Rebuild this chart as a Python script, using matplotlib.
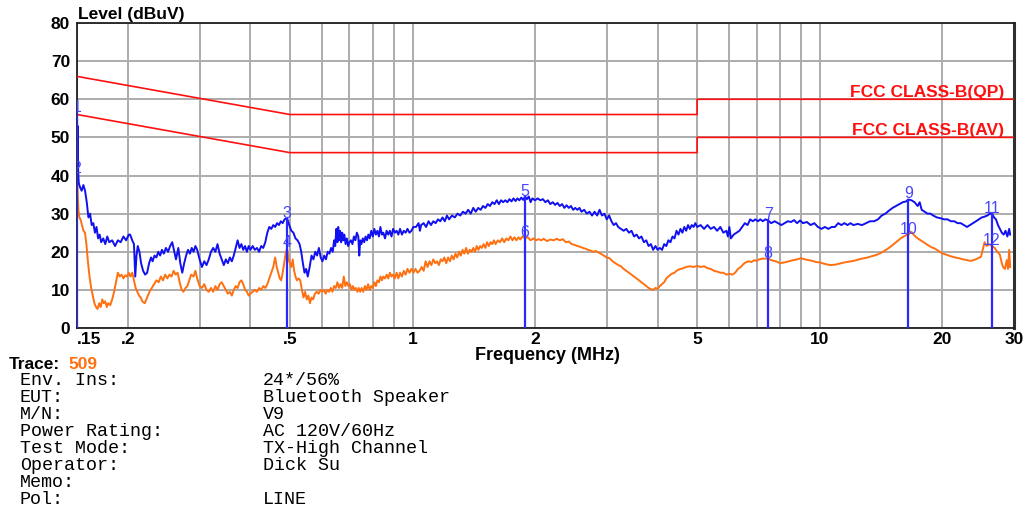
import matplotlib
matplotlib.use("Agg")
import matplotlib.pyplot as plt

plt.rcParams['font.family'] = ['Liberation Sans', 'DejaVu Sans']

# limit lines (MHz, dBuV)
limit_f = [0.15, 0.5, 5, 5, 30]
qp_limit = [66, 56, 56, 60, 60]
av_limit = [56, 46, 46, 50, 50]

# peak trace (blue)
peak_f = [
    0.1500, 0.1503, 0.1506, 0.1510, 0.1515, 0.1525, 0.1540, 0.1555, 0.1570, 0.1585,
    0.1600, 0.1615, 0.1630, 0.1645, 0.1660, 0.1675, 0.1690, 0.1705, 0.1720, 0.1740,
    0.1760, 0.1780, 0.1800, 0.1830, 0.1860, 0.1890, 0.1920, 0.1950, 0.1980, 0.2010,
    0.2025, 0.2050, 0.2070, 0.2085, 0.2100, 0.2115, 0.2135, 0.2155, 0.2180, 0.2205,
    0.2230, 0.2255, 0.2280, 0.2300, 0.2325, 0.2350, 0.2375, 0.2400, 0.2425, 0.2450,
    0.2480, 0.2510, 0.2540, 0.2570, 0.2600, 0.2625, 0.2660, 0.2690, 0.2720, 0.2750,
    0.2780, 0.2810, 0.2840, 0.2870, 0.2900, 0.2930, 0.2960, 0.3000, 0.3040, 0.3080,
    0.3120, 0.3160, 0.3200, 0.3240, 0.3280, 0.3320, 0.3360, 0.3400, 0.3440, 0.3480,
    0.3520, 0.3560, 0.3600, 0.3640, 0.3680, 0.3720, 0.3760, 0.3800, 0.3840, 0.3880,
    0.3920, 0.3960, 0.4000, 0.4050, 0.4100, 0.4150, 0.4200, 0.4250, 0.4300, 0.4350,
    0.4400, 0.4450, 0.4500, 0.4550, 0.4600, 0.4650, 0.4700, 0.4750, 0.4800, 0.4850,
    0.4920, 0.4980, 0.5040, 0.5100, 0.5160, 0.5220, 0.5280, 0.5330, 0.5380, 0.5430,
    0.5480, 0.5530, 0.5590, 0.5650, 0.5710, 0.5770, 0.5830, 0.5890, 0.5950, 0.6010,
    0.6070, 0.6130, 0.6190, 0.6250, 0.6310, 0.6370, 0.6420, 0.6460, 0.6500, 0.6540,
    0.6570, 0.6600, 0.6640, 0.6680, 0.6720, 0.6760, 0.6800, 0.6850, 0.6900, 0.6950,
    0.7000, 0.7060, 0.7120, 0.7180, 0.7240, 0.7300, 0.7360, 0.7400, 0.7440, 0.7490,
    0.7550, 0.7610, 0.7670, 0.7730, 0.7790, 0.7850, 0.7920, 0.7990, 0.8060, 0.8130,
    0.8200, 0.8270, 0.8340, 0.8410, 0.8480, 0.8560, 0.8640, 0.8720, 0.8800, 0.8880,
    0.8960, 0.9050, 0.9140, 0.9230, 0.9320, 0.9420, 0.9520, 0.9620, 0.9720, 0.9830,
    0.9940, 1.0050, 1.0200, 1.0350, 1.0430, 1.0500, 1.0650, 1.0800, 1.0950, 1.1100,
    1.1250, 1.1400, 1.1550, 1.1700, 1.1850, 1.2000, 1.2150, 1.2300, 1.2500, 1.2700,
    1.2900, 1.3100, 1.3300, 1.3500, 1.3700, 1.3900, 1.4100, 1.4300, 1.4500, 1.4700,
    1.4900, 1.5100, 1.5300, 1.5500, 1.5700, 1.5900, 1.6100, 1.6300, 1.6500, 1.6700,
    1.6900, 1.7100, 1.7300, 1.7500, 1.7700, 1.7900, 1.8100, 1.8300, 1.8500, 1.8700,
    1.8900, 1.9100, 1.9300, 1.9500, 1.9700, 2.0000, 2.0300, 2.0600, 2.0900, 2.1200,
    2.1500, 2.1800, 2.2100, 2.2400, 2.2700, 2.3000, 2.3300, 2.3600, 2.3900, 2.4200,
    2.4500, 2.4800, 2.5100, 2.5400, 2.5700, 2.6000, 2.6400, 2.6800, 2.7200, 2.7600,
    2.8000, 2.8400, 2.8800, 2.9200, 2.9600, 3.0000, 3.0400, 3.0800, 3.1200, 3.1600,
    3.2000, 3.2500, 3.3000, 3.3500, 3.4000, 3.4500, 3.5000, 3.5500, 3.6000, 3.6500,
    3.7000, 3.7500, 3.8000, 3.8500, 3.9000, 3.9500, 4.0000, 4.0500, 4.1000, 4.1500,
    4.2000, 4.2500, 4.3000, 4.3500, 4.4000, 4.4500, 4.5000, 4.5500, 4.6000, 4.6500,
    4.7000, 4.7500, 4.8000, 4.8500, 4.9000, 4.9500, 5.0000, 5.1000, 5.2000, 5.3000,
    5.4000, 5.5000, 5.6000, 5.7000, 5.8000, 5.9000, 5.9500, 6.0000, 6.0500, 6.1500,
    6.2500, 6.3500, 6.4500, 6.5500, 6.6500, 6.7500, 6.8500, 6.9500, 7.0500, 7.1500,
    7.2500, 7.3500, 7.4700, 7.6000, 7.7500, 7.9000, 8.0500, 8.2000, 8.3500, 8.5000,
    8.6500, 8.8000, 8.9500, 9.1000, 9.3000, 9.5000, 9.7000, 9.9000, 10.100, 10.300,
    10.500, 10.700, 10.900, 11.100, 11.300, 11.500, 11.700, 11.900, 12.100, 12.400,
    12.700, 13.000, 13.300, 13.600, 13.900, 14.200, 14.500, 14.800, 15.100, 15.400,
    15.700, 16.000, 16.300, 16.500, 16.800, 17.100, 17.400, 17.600, 17.800, 18.100,
    18.400, 18.700, 19.000, 19.400, 19.800, 20.200, 20.600, 21.000, 21.400, 21.800,
    22.200, 22.600, 23.000, 23.400, 23.800, 24.200, 24.600, 25.000, 25.400, 25.800,
    26.200, 26.500, 26.800, 27.100, 27.400, 27.700, 28.000, 28.300, 28.600, 28.900,
    29.200, 29.350,
]
peak_db = [
    56.5, 45, 53, 41, 38, 37, 36, 37.5, 36, 33,
    29, 30, 27, 27.5, 25, 26.5, 23.5, 24.5, 22.5, 23.5,
    22, 24, 22.5, 23, 21.5, 23, 22.5, 24, 23, 24.5,
    24.5, 23, 22, 13.5, 19, 21.5, 20, 17, 15, 14,
    14.5, 17, 18.5, 17.5, 19, 18.5, 20, 19, 20.5, 19.5,
    21, 20, 21.5, 22.5, 20, 18, 21, 17, 14.5, 17,
    19, 20.5, 19.5, 21, 20, 21.5, 20.5, 18, 16, 17.5,
    16.5, 18, 20, 21, 20, 22, 19.5, 18, 16.5, 18,
    17, 18.5, 17.5, 19, 21, 23, 21, 22, 20.5, 21.5,
    20, 21.5, 20.5, 21.5, 20.5, 21, 20, 21.5, 21, 22.5,
    25, 26.5, 26, 27, 26.5, 27.5, 27, 28, 27.5, 28.5,
    28.8, 27, 25.5, 25, 23.5, 23, 22, 20, 17, 14.5,
    15.5, 13.5, 16, 19, 18, 20, 19, 21, 18.5, 17.5,
    19, 18, 20, 19.5, 21, 20, 23, 21.5, 26, 22.5,
    26.5, 23, 25.5, 22.5, 25, 23, 24.5, 22, 23.5, 21.5,
    22.5, 23, 22, 24, 23, 25, 24, 19, 23, 22,
    23.5, 22.5, 24, 23, 24.5, 23.5, 25.5, 24, 26, 24.5,
    25.5, 24, 26.5, 24.5, 25, 23.5, 25.5, 24.5, 25.5, 24,
    26, 25, 25.5, 24.5, 26, 24.5, 25.5, 25, 26, 25,
    25.5, 26.5, 26.5, 27.5, 25.5, 27, 27.5, 26.5, 28, 27,
    28, 27.5, 28.5, 28, 29, 28, 29.5, 28.5, 29.5, 29,
    30, 29.5, 30.5, 30, 31, 30, 31.5, 30.5, 31.5, 31,
    32, 31.5, 32.5, 32, 33, 32.5, 33.5, 32.5, 33.5, 33,
    33.5, 33, 33.8, 33.2, 34, 33.3, 34, 33.5, 34.2, 33.6,
    34.5, 33.8, 34.5, 33, 34, 33.5, 34, 33.5, 33.8, 33,
    33.5, 32.5, 33, 32.3, 32.8, 32, 32.5, 31.5, 32.2, 31.5,
    32, 31, 31.5, 31, 31.5, 30.5, 31, 30, 30.5, 29.5,
    30.5, 29.5, 31, 29.5, 30, 28.5, 29.5, 28, 27, 27.5,
    26.5, 26, 25.5, 26, 25, 25.5, 24, 24.5, 23.5, 24,
    22.5, 23, 21.5, 22, 20.5, 21.5, 20.5, 21, 20.5, 22,
    21.5, 23, 22.5, 24, 23.5, 25.5, 24.5, 26, 25, 26.5,
    25.5, 27, 26, 27, 26.5, 27.5, 26.5, 27, 26, 27,
    26, 26.5, 25.5, 26.5, 25, 25.5, 24, 26.5, 23.5, 24.5,
    25, 25.5, 26.5, 27.5, 27, 28.5, 28, 28.5, 28, 28.5,
    28, 28.5, 28.2, 27.5, 28, 27.5, 27, 27.5, 28, 27.8,
    28.3, 27.5, 28.2, 27.5, 27.8, 27, 27.5, 26.5, 26, 26.5,
    26, 26.5, 26.5, 27.5, 27, 27.5, 27, 27.5, 27, 27.3,
    27, 27.5, 28, 28, 28.5, 29.5, 30, 30.8, 31.5, 32,
    32.5, 33, 33.2, 33.7, 33.5, 33, 32, 33, 31, 30.5,
    30, 30, 29.5, 29, 28.8, 28.5, 28.5, 28, 28, 27.5,
    27.5, 27, 26.5, 27, 27.5, 28, 28.5, 29, 29.2, 29.5,
    30, 30, 29, 28.5, 27, 26, 25, 24.5, 25.5, 24,
    26, 24.5,
]

# average trace (orange)
avg_f = [
    0.1500, 0.1503, 0.1506, 0.1512, 0.1520, 0.1530, 0.1543, 0.1556, 0.1569, 0.1582,
    0.1595, 0.1610, 0.1625, 0.1640, 0.1655, 0.1670, 0.1685, 0.1700, 0.1715, 0.1730,
    0.1745, 0.1760, 0.1775, 0.1790, 0.1810, 0.1830, 0.1850, 0.1870, 0.1890, 0.1910,
    0.1930, 0.1950, 0.1970, 0.1990, 0.2010, 0.2030, 0.2050, 0.2070, 0.2090, 0.2110,
    0.2130, 0.2150, 0.2170, 0.2200, 0.2230, 0.2260, 0.2290, 0.2320, 0.2350, 0.2380,
    0.2410, 0.2440, 0.2470, 0.2500, 0.2530, 0.2560, 0.2590, 0.2620, 0.2650, 0.2680,
    0.2710, 0.2740, 0.2770, 0.2800, 0.2830, 0.2860, 0.2900, 0.2930, 0.2960, 0.3000,
    0.3040, 0.3080, 0.3120, 0.3160, 0.3200, 0.3240, 0.3280, 0.3320, 0.3360, 0.3400,
    0.3440, 0.3480, 0.3520, 0.3560, 0.3600, 0.3640, 0.3680, 0.3720, 0.3760, 0.3800,
    0.3840, 0.3880, 0.3920, 0.3960, 0.4000, 0.4050, 0.4100, 0.4150, 0.4200, 0.4250,
    0.4300, 0.4350, 0.4400, 0.4450, 0.4500, 0.4550, 0.4600, 0.4640, 0.4680, 0.4720,
    0.4760, 0.4800, 0.4840, 0.4880, 0.4920, 0.4960, 0.5000, 0.5040, 0.5080, 0.5120,
    0.5160, 0.5200, 0.5250, 0.5300, 0.5350, 0.5400, 0.5450, 0.5500, 0.5550, 0.5600,
    0.5650, 0.5700, 0.5760, 0.5820, 0.5880, 0.5940, 0.6000, 0.6060, 0.6120, 0.6180,
    0.6240, 0.6300, 0.6360, 0.6420, 0.6480, 0.6540, 0.6600, 0.6660, 0.6720, 0.6780,
    0.6840, 0.6900, 0.6960, 0.7020, 0.7080, 0.7140, 0.7200, 0.7260, 0.7320, 0.7380,
    0.7440, 0.7500, 0.7570, 0.7640, 0.7710, 0.7780, 0.7850, 0.7920, 0.7990, 0.8060,
    0.8130, 0.8200, 0.8270, 0.8340, 0.8410, 0.8480, 0.8560, 0.8640, 0.8720, 0.8800,
    0.8880, 0.8960, 0.9050, 0.9140, 0.9230, 0.9320, 0.9420, 0.9520, 0.9620, 0.9720,
    0.9830, 0.9940, 1.0050, 1.0170, 1.0290, 1.0410, 1.0530, 1.0650, 1.0770, 1.0890,
    1.1010, 1.1130, 1.1250, 1.1370, 1.1490, 1.1610, 1.1730, 1.1850, 1.1970, 1.2100,
    1.2230, 1.2360, 1.2490, 1.2620, 1.2750, 1.2880, 1.3010, 1.3140, 1.3270, 1.3400,
    1.3540, 1.3680, 1.3820, 1.3960, 1.4100, 1.4240, 1.4380, 1.4520, 1.4660, 1.4800,
    1.4950, 1.5100, 1.5250, 1.5400, 1.5550, 1.5700, 1.5850, 1.6000, 1.6200, 1.6400,
    1.6600, 1.6800, 1.7000, 1.7200, 1.7400, 1.7600, 1.7800, 1.8000, 1.8200, 1.8400,
    1.8600, 1.8900, 1.9200, 1.9500, 1.9800, 2.0100, 2.0400, 2.0700, 2.1000, 2.1400,
    2.1800, 2.2200, 2.2600, 2.3000, 2.3400, 2.3800, 2.4200, 2.4600, 2.5000, 2.5400,
    2.5800, 2.6200, 2.6600, 2.7000, 2.7400, 2.7800, 2.8200, 2.8600, 2.9000, 2.9500,
    3.0000, 3.0500, 3.1000, 3.1500, 3.2000, 3.2500, 3.3000, 3.3500, 3.4000, 3.4500,
    3.5000, 3.5500, 3.6000, 3.6500, 3.7000, 3.7500, 3.8000, 3.8500, 3.9000, 3.9500,
    4.0000, 4.0500, 4.1000, 4.1500, 4.2000, 4.2500, 4.3000, 4.3500, 4.4000, 4.4500,
    4.5000, 4.5500, 4.6000, 4.7000, 4.8000, 4.9000, 5.0000, 5.1000, 5.2000, 5.3000,
    5.4000, 5.5000, 5.6000, 5.7000, 5.8000, 5.9000, 6.0000, 6.1000, 6.2000, 6.3000,
    6.4000, 6.5000, 6.6000, 6.7000, 6.8000, 6.9000, 7.0000, 7.1000, 7.2500, 7.4700,
    7.6000, 7.8000, 8.0000, 8.2000, 8.4000, 8.6000, 8.8000, 9.0000, 9.2000, 9.4000,
    9.6000, 9.8000, 10.000, 10.300, 10.600, 10.900, 11.200, 11.500, 11.800, 12.100,
    12.400, 12.700, 13.000, 13.400, 13.800, 14.200, 14.600, 15.000, 15.400, 15.800,
    16.200, 16.500, 16.800, 17.100, 17.400, 17.700, 18.000, 18.400, 18.800, 19.200,
    19.600, 20.000, 20.500, 21.000, 21.500, 22.000, 22.500, 23.000, 23.500, 24.000,
    24.500, 24.900, 25.200, 25.400, 25.700, 26.100, 26.500, 26.900, 27.300, 27.700,
    28.000, 28.200, 28.500, 28.800, 29.000, 29.200, 29.350,
]
avg_db = [
    41, 38, 35, 31, 29, 28.5, 27, 25.5, 25, 22,
    17.5, 13.5, 10.5, 8.5, 6.5, 5.5, 5, 6.5, 5.5, 7.5,
    6.5, 7, 5.5, 6.5, 6, 7.5, 9.5, 12, 14.5, 13.5,
    14, 13, 13.8, 13.5, 14.5, 13.5, 14.5, 12.5, 10.5, 9.5,
    8.5, 8, 7, 6.5, 8, 9.5, 10.5, 11.5, 12.5, 12,
    13.5, 12.5, 14, 13, 14, 13.5, 15, 14, 14.5, 12,
    10, 9.5, 10.5, 11, 12.5, 14, 13.5, 15, 13, 11,
    10.5, 11.5, 10, 9.5, 10.5, 9.5, 11, 10, 11.5, 12,
    11, 10, 9, 9.5, 8.5, 10, 11, 10.5, 12, 12.5,
    11.5, 10, 9.5, 8.5, 9, 9.5, 10, 9.5, 10.5, 10,
    11, 10.5, 11.5, 13, 14.5, 16, 18.5, 16, 14.5, 13,
    12.5, 14.5, 17, 19.5, 21, 18, 17, 16, 18, 15,
    13.5, 12.5, 13, 12.5, 10, 8, 9.5, 7.5, 8.5, 6.5,
    8, 7.5, 9, 9.5, 9, 10, 9.5, 10, 9, 10,
    9.5, 10.5, 9.5, 11, 10.5, 12, 10.5, 11.5, 10.5, 13.5,
    11, 12, 11, 11.5, 10, 11, 10, 10.5, 9.5, 10.5,
    9.5, 10.5, 9.5, 11, 10, 11.5, 10, 11, 10.5, 12,
    11, 12.5, 12, 13.5, 12.5, 13.5, 13, 14, 13, 14.5,
    13.5, 14, 13, 14.5, 13, 14.5, 13.5, 15, 14, 15.5,
    14.5, 15.5, 14.5, 15.5, 14.5, 15, 16, 15, 17.5, 16,
    17.5, 16.5, 18, 17, 17.5, 16.5, 18, 17.5, 18.5, 17,
    18.5, 17.5, 19, 18, 19.5, 18.5, 20, 19, 20.5, 19.5,
    21, 19.5, 20.5, 20, 21, 20, 21.5, 20.5, 21.5, 21,
    22, 21, 22.5, 21.5, 22.5, 22, 23, 22, 23, 22.5,
    23.5, 22.5, 23.5, 23, 24, 23, 23.8, 23, 23.8, 23.2,
    24, 23.6, 23.8, 23, 23.5, 23, 23.3, 23, 23.4, 22.8,
    23.2, 23, 23.4, 23, 23.3, 22.5, 22.7, 22, 21.8, 21.5,
    21.3, 21, 20.8, 20.5, 20.3, 20, 20.2, 19.8, 19.5, 19,
    18.5, 18.3, 17.5, 17, 16.5, 16.2, 15.5, 15, 14.5, 14,
    13.5, 13, 12.5, 12, 11.5, 11, 10.5, 10.2, 10, 10.5,
    10.3, 11, 11.5, 12, 13, 13.5, 14, 14.3, 14.5, 15,
    15.3, 15.5, 15.6, 16, 16.2, 16, 16.3, 16, 16.2, 15.7,
    15.5, 15, 14.8, 14.5, 14.5, 14, 14.2, 14, 14.5, 15.5,
    16, 16.8, 17.3, 17.5, 17.3, 17.8, 17.6, 18, 18.2, 18.2,
    17.8, 17.5, 17, 17.2, 17.5, 17.8, 18, 18.3, 18, 17.8,
    17.6, 17.3, 17.2, 16.8, 16.5, 16.6, 16.9, 17.2, 17.4, 17.6,
    17.9, 18.2, 18.4, 18.8, 19.2, 19.8, 20.6, 21.5, 22.5, 23.5,
    24.2, 24.5, 25.2, 24.2, 23.5, 23, 22.5, 21.8, 21.2, 20.8,
    20.2, 19.6, 19.2, 18.8, 18.5, 18.3, 18, 17.8, 17.6, 17.9,
    18.3, 18.7, 21, 22.5, 21.5, 22, 21.5, 21, 20, 19.2,
    17, 16, 15.5, 17.8, 15.5, 20.5, 16,
]

# marker readings
marker_num = ['1', '2', '3', '4', '5', '6', '7', '8', '9', '10', '11', '12']
marker_f = [0.150, 0.150, 0.492, 0.492, 1.89, 1.89, 7.47, 7.47, 16.5, 16.5, 26.5, 26.5]
marker_db = [56.5, 40.5, 28.5, 21.0, 34.3, 23.6, 28.2, 18.2, 33.7, 24.5, 30.0, 21.5]

# axis ticks
x_major = [0.15, 0.2, 0.5, 1, 2, 5, 10, 20, 30]
x_major_labels = ['.15', '.2', '.5', '1', '2', '5', '10', '20', '30']
x_minor = [0.3, 0.4, 0.6, 0.7, 0.8, 0.9, 3, 4, 6, 7, 8, 9]
y_ticks = [0, 10, 20, 30, 40, 50, 60, 70, 80]

# info block
info_keys = ['Env. Ins:', 'EUT:', 'M/N:', 'Power Rating:', 'Test Mode:',
             'Operator:', 'Memo:', 'Pol:']
info_vals = ['24*/56%', 'Bluetooth Speaker', 'V9', 'AC 120V/60Hz',
             'TX-High Channel', 'Dick Su', '', 'LINE']

blue = '#1010f0'
orange = '#ff7010'

fig = plt.figure(figsize=(10.35, 5.09), dpi=100)
ax = fig.add_axes([0.0744, 0.3556, 0.9053, 0.5992])

ax.plot(limit_f, qp_limit, color='#ff1010', lw=1.2, zorder=3)
ax.plot(limit_f, av_limit, color='#ff1010', lw=1.2, zorder=3)
ax.plot(avg_f, avg_db, color=orange, lw=1.4, zorder=4)
ax.plot(peak_f, peak_db, color=blue, lw=1.4, zorder=5)

# vertical marker lines from the peak reading down to zero
for i in range(0, len(marker_f), 2):
    ax.plot([marker_f[i], marker_f[i]], [0, marker_db[i]], color='#2828ff', lw=1.6, zorder=6)
for num, f, db in zip(marker_num, marker_f, marker_db):
    ax.text(f, db - 0.5, num, color='#4646ff', fontsize=11.5, ha='center', va='bottom',
            zorder=7, clip_on=True)

ax.text(28.4, 60.6, 'FCC CLASS-B(QP)', color='#ff1010', fontsize=12.5, fontweight='bold',
        ha='right', va='baseline', zorder=7)
ax.text(28.4, 50.6, 'FCC CLASS-B(AV)', color='#ff1010', fontsize=12.5, fontweight='bold',
        ha='right', va='baseline', zorder=7)

ax.set_xscale('log')
ax.set_xlim(0.15, 30)
ax.set_ylim(0, 80)
ax.set_xticks(x_major)
ax.set_xticklabels(x_major_labels, fontsize=12.5, fontweight='bold')
ax.set_xticks(x_minor, minor=True)
ax.set_xticklabels([], minor=True)
ax.get_xticklabels()[0].set_horizontalalignment('left')
ax.set_yticks(y_ticks)
ax.set_yticklabels([str(v) for v in y_ticks], fontsize=12.5, fontweight='bold')
ax.tick_params(which='both', length=0)
ax.tick_params(axis='x', pad=3)
ax.tick_params(axis='y', pad=5)
ax.grid(True, which='both', color='#acacac', lw=1.4, zorder=1)
ax.set_axisbelow(True)

for side in ['left', 'bottom', 'top']:
    ax.spines[side].set_color('#202020')
    ax.spines[side].set_linewidth(1.3)
ax.spines['right'].set_color('#303030')
ax.spines['right'].set_linewidth(2.2)

fig.text(0.0755, 0.972, 'Level (dBuV)', fontsize=12.5, fontweight='bold', ha='left', va='center')
fig.text(0.529, 0.302, 'Frequency (MHz)', fontsize=13, fontweight='bold', ha='center', va='center')

fig.text(0.008, 0.283, 'Trace:', fontsize=12.5, fontweight='bold', ha='left', va='center')
fig.text(0.0665, 0.283, '509', fontsize=12.5, fontweight='bold', color='#ff7010', ha='left', va='center')

row_y = 0.252
for key, val in zip(info_keys, info_vals):
    fig.text(0.019, row_y, key, family='Liberation Mono', fontsize=13.2, ha='left', va='center')
    fig.text(0.254, row_y, val, family='Liberation Mono', fontsize=13.2, ha='left', va='center')
    row_y -= 0.0333

fig.savefig('out.png', dpi=100)
